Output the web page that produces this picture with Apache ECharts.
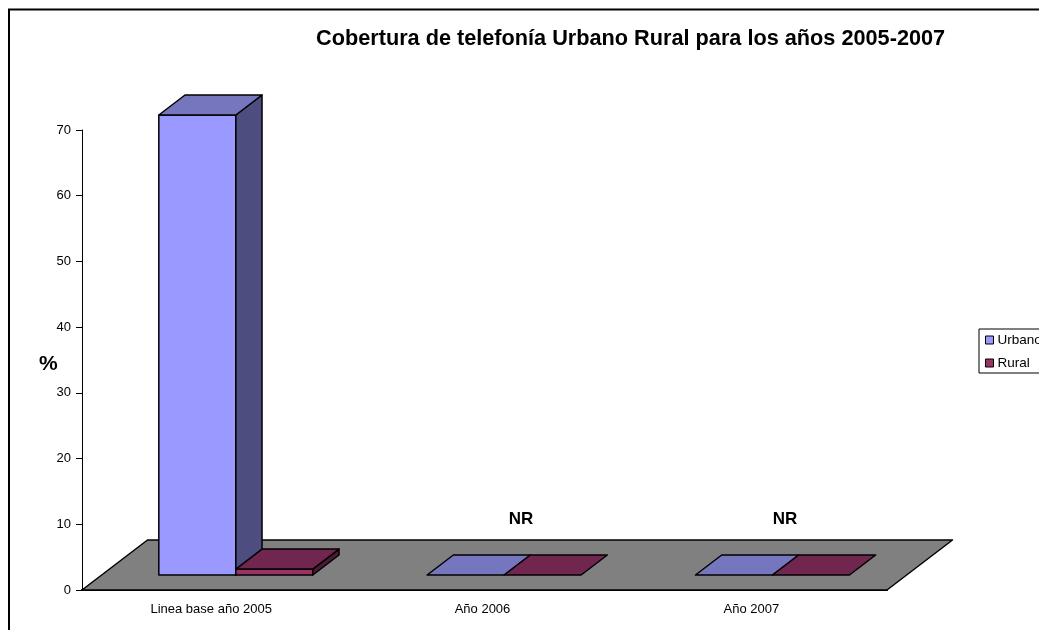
<!DOCTYPE html>
<html>
<head>
<meta charset="utf-8">
<title>Cobertura de telefonía</title>
<script src="https://cdn.jsdelivr.net/npm/echarts@6/dist/echarts.min.js"></script>
<style>
    html, body { margin: 0; padding: 0; background: #fff; }
    #chart { width: 1039px; height: 630px; }
</style>
</head>
<body>
<div id="chart"></div>
<script>
// 数据
const categories = ['Linea base año 2005', 'Año 2006', 'Año 2007'];
const urbano = [70, 0, 0];
const rural = [0.9, 0, 0];
const yTicks = { min: 0, max: 70, interval: 10 };
const noData = ['', 'NR', 'NR'];

const fontName = '"Liberation Sans", Arial, sans-serif';

// 3D 效果的偏移 (像素)
const floorDx = 65.5, floorDy = -50;
const frontGapY = -15, frontGapX = 19.65;
const depthDx = 26.2, depthDy = -20;
const barW = 77;
// NR 和 x 轴标签的微调
const nrShift = [0, 36.5, 32.2];
const labelPad = [10, 4, 3];

const face = (points, fill) => ({
    type: 'polygon',
    shape: { points },
    style: { fill, stroke: '#000', lineWidth: 1.5, lineJoin: 'round' }
});

// 画一根带顶面和侧面的柱子
const bar3d = (offset, colors) => (params, api) => {
    const base = api.coord([api.value(0), 0]);
    const top = api.coord([api.value(0), api.value(1)]);
    const x0 = base[0] + frontGapX + offset * barW;
    const x1 = x0 + barW;
    const y0 = base[1] + frontGapY;
    const y1 = top[1] + frontGapY;
    const flat = api.value(1) === 0;
    const children = [];
    if (!flat) {
        children.push(face([[x0, y0], [x1, y0], [x1, y1], [x0, y1]], colors.front));
        children.push(face([[x1, y0], [x1 + depthDx, y0 + depthDy], [x1 + depthDx, y1 + depthDy], [x1, y1]], colors.side));
    }
    children.push(face([[x0, y1], [x1, y1], [x1 + depthDx, y1 + depthDy], [x0 + depthDx, y1 + depthDy]], colors.top));
    return { type: 'group', children };
};

const urbanoColors = { front: '#9999ff', top: '#7676be', side: '#4d4d80' };
const ruralColors = { front: '#993366', top: '#70264e', side: '#4d1a33' };

const labelRich = {};
labelPad.forEach((pad, i) => {
    labelRich['c' + i] = { fontFamily: fontName, fontSize: 13, color: '#000', padding: [0, pad, 0, 0] };
});

const option = {
    backgroundColor: '#fff',
    animation: false,
    title: {
        text: 'Cobertura de telefonía Urbano Rural para los años 2005-2007',
        left: 316,
        top: 28,
        padding: 0,
        textStyle: { fontFamily: fontName, fontSize: 21.7, fontWeight: 'bold', color: '#000' }
    },
    legend: {
        left: 979,
        top: 329,
        orient: 'vertical',
        padding: [4, 20, 3, 6],
        itemGap: 9,
        itemWidth: 8,
        itemHeight: 8,
        icon: 'rect',
        borderColor: '#000',
        borderWidth: 1,
        borderRadius: 0,
        textStyle: { fontFamily: fontName, fontSize: 13.5, color: '#000', padding: [0, 0, 0, -1] },
        data: [
            { name: 'Urbano', itemStyle: { color: '#9999ff', borderColor: '#000', borderWidth: 1 } },
            { name: 'Rural', itemStyle: { color: '#993366', borderColor: '#000', borderWidth: 1 } }
        ]
    },
    grid: { left: 82, top: 130, width: 805, height: 460, containLabel: false },
    xAxis: {
        type: 'category',
        data: categories,
        boundaryGap: true,
        axisLine: { lineStyle: { color: '#000', width: 2 } },
        axisTick: { length: 7, alignWithLabel: false, lineStyle: { color: '#000' } },
        axisLabel: {
            color: '#000',
            fontFamily: fontName,
            fontSize: 13,
            margin: 13,
            formatter: (value, index) => '{c' + index + '|' + value + '}',
            rich: labelRich
        }
    },
    yAxis: {
        type: 'value',
        min: yTicks.min,
        max: yTicks.max,
        interval: yTicks.interval,
        splitLine: { show: false },
        axisLine: { show: true, lineStyle: { color: '#000', width: 1 } },
        axisTick: { show: true, length: 6, lineStyle: { color: '#000' } },
        axisLabel: { color: '#000', fontFamily: fontName, fontSize: 13, margin: 11 }
    },
    graphic: [
        { type: 'rect', z: -1, shape: { x: 9, y: 9.5, width: 1100, height: 700 }, style: { fill: 'none', stroke: '#000', lineWidth: 2 } },
        { type: 'text', left: 39, top: 354, style: { text: '%', fill: '#000', font: 'bold 21px ' + fontName } }
    ],
    series: [
        {
            // 地板
            type: 'custom',
            silent: true,
            z: 1,
            clip: false,
            encode: { x: 0, y: 1 },
            data: [[0, 0]],
            renderItem: (params, api) => {
                const cs = params.coordSys;
                const y = cs.y + cs.height, x0 = cs.x, x1 = cs.x + cs.width;
                return face([[x0, y], [x1, y], [x1 + floorDx, y + floorDy], [x0 + floorDx, y + floorDy]], '#808080');
            }
        },
        {
            name: 'Urbano',
            type: 'custom',
            z: 2,
            clip: false,
            encode: { x: 0, y: 1 },
            data: urbano.map((v, i) => [i, v]),
            renderItem: bar3d(-1, urbanoColors)
        },
        {
            name: 'Rural',
            type: 'custom',
            z: 3,
            clip: false,
            encode: { x: 0, y: 1 },
            data: rural.map((v, i) => [i, v]),
            renderItem: bar3d(0, ruralColors),
        },
        {
            // NR 标签
            type: 'custom',
            z: 4,
            silent: true,
            clip: false,
            encode: { x: 0, y: 1 },
            data: noData.map((t, i) => [i, 0, t]),
            renderItem: (params, api) => {
                const p = api.coord([api.value(0), 0]);
                return {
                    type: 'text',
                    x: p[0] + nrShift[params.dataIndex],
                    y: p[1] - 71,
                    style: {
                        text: noData[params.dataIndex],
                        fill: '#000',
                        font: 'bold 17px ' + fontName,
                        textAlign: 'center',
                        textVerticalAlign: 'middle'
                    }
                };
            }
        }
    ]
};

let myChart = echarts.init(document.getElementById('chart'), null, { renderer: 'canvas' });
myChart.setOption(option);
</script>
</body>
</html>
